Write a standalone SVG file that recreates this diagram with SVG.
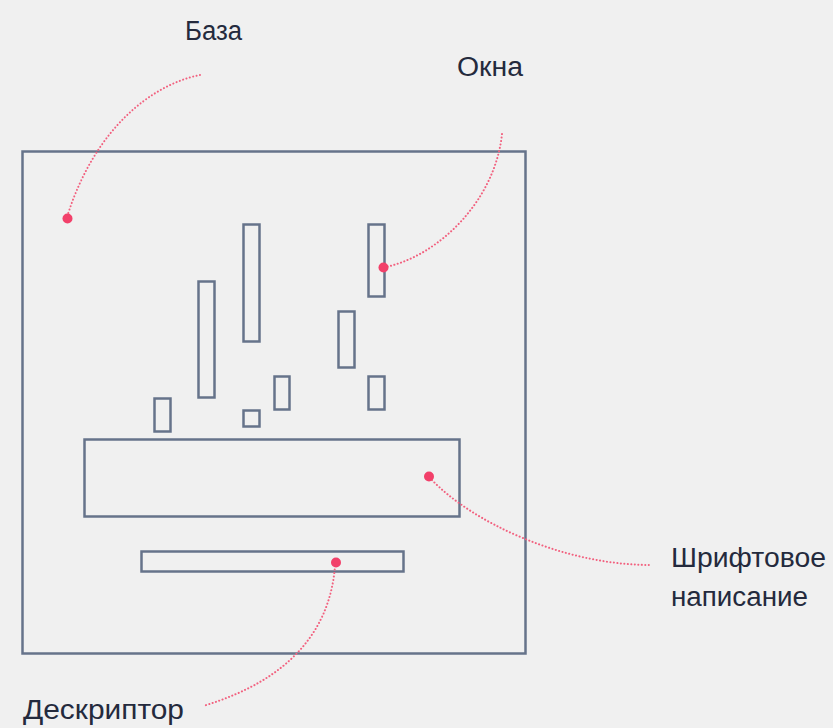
<svg xmlns="http://www.w3.org/2000/svg" width="833" height="728" viewBox="0 0 833 728">
<style>
.box{fill:none;stroke:#66738a;stroke-width:2.5}
.lead{fill:none;stroke:#f2617f;stroke-width:2;stroke-dasharray:0.1 3.4;stroke-linecap:round}
.dot{fill:#f2406a}
.lbl{font-family:"Liberation Sans",Arial,sans-serif;font-size:27px;fill:#242a3d}
</style>
<rect width="833" height="728" fill="#f0f0f0"/>
<g id="base"><rect class="box" x="22.5" y="151.5" width="503" height="502"/></g>
<g id="windows">
<rect class="box" x="154.5" y="398.5" width="16" height="33"/>
<rect class="box" x="198.5" y="281.5" width="16" height="116"/>
<rect class="box" x="243.5" y="224.5" width="16" height="117"/>
<rect class="box" x="243.5" y="410.5" width="16" height="16"/>
<rect class="box" x="274.5" y="376.5" width="15" height="33"/>
<rect class="box" x="338.5" y="311.5" width="16" height="56"/>
<rect class="box" x="368.5" y="224.5" width="16" height="72"/>
<rect class="box" x="368.5" y="376.5" width="16" height="33"/>
</g>
<g id="font-sign"><rect class="box" x="84.5" y="439.5" width="375" height="77"/></g>
<g id="descriptor"><rect class="box" x="141.5" y="551.5" width="262" height="20"/></g>
<g id="connectors">
<path class="lead" d="M200,75 C150,85 95,130 68,214"/>
<path class="lead" d="M502,134 C495,200 440,255 386,267"/>
<path class="lead" d="M432,480 C470,520 560,565 651,565"/>
<path class="lead" d="M335,566 C330,630 290,680 203,706"/>
<circle class="dot" cx="67.5" cy="218.5" r="5"/>
<circle class="dot" cx="383.5" cy="267.5" r="5"/>
<circle class="dot" cx="429" cy="476.5" r="5"/>
<circle class="dot" cx="336" cy="562.5" r="5"/>
</g>
<g id="labels">
<text class="lbl" x="185" y="40" textLength="57" lengthAdjust="spacingAndGlyphs">База</text>
<text class="lbl" x="457" y="76" textLength="66" lengthAdjust="spacingAndGlyphs">Окна</text>
<text class="lbl" x="671" y="567" textLength="155" lengthAdjust="spacingAndGlyphs">Шрифтовое</text>
<text class="lbl" x="671" y="606" textLength="137" lengthAdjust="spacingAndGlyphs">написание</text>
<text class="lbl" x="23" y="719" textLength="161" lengthAdjust="spacingAndGlyphs">Дескриптор</text>
</g>
</svg>
